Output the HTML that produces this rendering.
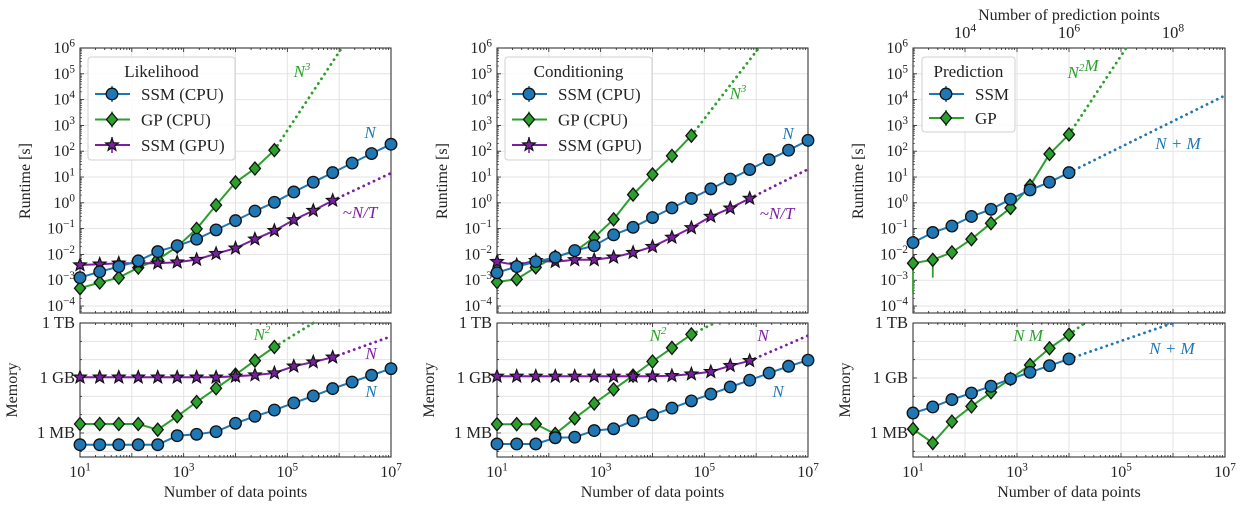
<!DOCTYPE html>
<html><head><meta charset="utf-8"><style>
html,body{margin:0;padding:0;background:#fff;}
svg{display:block;font-family:"Liberation Serif","DejaVu Serif",serif;}
</style></head><body>
<svg id="fig" width="1245" height="510" viewBox="0 0 1245 510" xmlns="http://www.w3.org/2000/svg"></svg>
<script>
// ---------- data (log10 values) ----------
const nPoints = [10, 24, 56, 133, 316, 750, 1778, 4217, 10000, 23714, 56234, 133352, 316228, 749894, 1778279, 4216965, 10000000];
const xTickExp = [1, 3, 5, 7];
const runtimeTickExp = [6,5,4,3,2,1,0,-1,-2,-3,-4];
const memTickLabels = ["1 TB","1 GB","1 MB"];
const memTickExp = [12, 9, 6];
const topTickLabels = ["10^4","10^6","10^8"];
const topTickExp = [2, 4, 6];

// Likelihood runtime (log10 s)
const likSsmCpuRt = [-2.9,-2.67,-2.47,-2.25,-1.89,-1.66,-1.41,-1.05,-0.69,-0.32,0.02,0.42,0.8,1.17,1.54,1.91,2.27];
const likGpCpuRt  = [-3.31,-3.09,-2.9,-2.51,-2.2,-1.7,-1.01,-0.09,0.79,1.33,2.04];
const likSsmGpuRt = [-2.41,-2.38,-2.34,-2.34,-2.34,-2.3,-2.2,-1.97,-1.76,-1.41,-1.08,-0.66,-0.3,0.09];
// Likelihood memory (log10 bytes)
const likSsmCpuMem = [5.36,5.36,5.36,5.36,5.36,5.85,5.93,6.07,6.53,6.91,7.25,7.64,8.02,8.42,8.78,9.15,9.51];
const likGpCpuMem  = [6.49,6.49,6.49,6.49,6.18,6.91,7.69,8.44,9.18,9.95,10.69];
const likSsmGpuMem = [9.04,9.04,9.04,9.04,9.04,9.04,9.04,9.04,9.09,9.16,9.27,9.64,9.87,10.13];

// Conditioning runtime
const conSsmCpuRt = [-2.71,-2.47,-2.28,-2.11,-1.85,-1.66,-1.24,-0.95,-0.57,-0.2,0.17,0.54,0.92,1.29,1.67,2.04,2.42];
const conGpCpuRt  = [-3.07,-2.96,-2.5,-2.09,-1.89,-1.34,-0.64,0.32,1.1,1.82,2.6];
const conSsmGpuRt = [-2.28,-2.41,-2.24,-2.28,-2.21,-2.21,-2.11,-1.93,-1.7,-1.34,-0.97,-0.53,-0.21,0.17];
// Conditioning memory
const conSsmCpuMem = [5.4,5.4,5.4,5.74,5.77,6.13,6.23,6.67,6.99,7.36,7.75,8.12,8.51,8.88,9.27,9.64,9.97];
const conGpCpuMem  = [6.48,6.48,6.48,5.95,6.8,7.61,8.38,9.13,9.9,10.64,11.38];
const conSsmGpuMem = [9.09,9.09,9.09,9.09,9.09,9.09,9.09,9.09,9.1,9.12,9.21,9.34,9.67,9.94];

// Prediction runtime
const preSsmRt = [-1.54,-1.15,-0.9,-0.53,-0.25,0.14,0.5,0.8,1.17];
const preGpRt  = [-2.34,-2.21,-1.92,-1.41,-0.79,-0.2,0.66,1.89,2.65];
const preGpRtErrLow = [-3.5,-2.9,-2.2,-1.5,-0.85,-0.25,0.62,1.85,2.6];
// Prediction memory
const preSsmMem = [7.09,7.42,7.82,8.18,8.55,8.95,9.31,9.67,10.04];
const preGpMem  = [6.22,5.45,6.62,7.45,8.22,8.95,9.71,10.62,11.36];

// extrapolation endpoints [log10 x, log10 y]
const likExtrap = {gpRt:[6.05,6], gpuRt:[7,1.15], gpMem:[5.5,12], gpuMem:[7,11.27]};
const conExtrap = {gpRt:[6.05,6], gpuRt:[7,1.3], gpMem:[5.2,12], gpuMem:[7,11.31]};
const preExtrap = {ssmRt:[7,4.16], gpRt:[5.1,6], ssmMem:[6,12], gpMem:[4.3,12]};

// ---------- drawing ----------
const C = {blue:"#1f77b4", green:"#2ca02c", purple:"#7b1fa2"};
const svg = document.getElementById('fig');
const NS = "http://www.w3.org/2000/svg";
function el(tag, attrs, parent){
  const e = document.createElementNS(NS, tag);
  for (const k in attrs) e.setAttribute(k, attrs[k]);
  (parent||svg).appendChild(e);
  return e;
}
const RT = {top:48, bot:313, hi:6, lo:-4.27};
const MEM = {top:323, bot:457, hi:12, lo:4.69};

function supText(g, x, y, base, exp, anchor, size){
  const t = el('text', {x:x, y:y, 'text-anchor':anchor, 'font-size':size, fill:'#222'}, g);
  t.appendChild(document.createTextNode(base));
  const s = el('tspan', {'font-size':size*0.7, dy:-size*0.4}, t);
  s.textContent = exp;
  return t;
}
function marker(g, type, x, y, color){
  let m;
  if (type==='o') m = el('circle', {cx:x, cy:y, r:5.8, fill:color, stroke:'#111', 'stroke-width':1.3}, g);
  else if (type==='d') m = el('polygon', {points:`${x},${y-6.5} ${x+5.5},${y} ${x},${y+6.5} ${x-5.5},${y}`, fill:color, stroke:'#111', 'stroke-width':1.3}, g);
  else {
    let p=[]; for(let k=0;k<10;k++){const r=k%2?2.8:6.6; const a=-Math.PI/2+k*Math.PI/5; p.push((x+r*Math.cos(a)).toFixed(1)+','+(y+r*Math.sin(a)).toFixed(1));}
    m = el('polygon', {points:p.join(' '), fill:color, stroke:'#111', 'stroke-width':1.2}, g);
  }
  return m;
}

function panel(cfg){
  const g = el('g', {});
  
  
  const x0=cfg.x0, x1=cfg.x1;
  const X = lx => x0 + (lx-1)/6*(x1-x0);
  const Yr = ly => RT.top + (RT.hi-ly)/(RT.hi-RT.lo)*(RT.bot-RT.top);
  const Ym = ly => MEM.top + (MEM.hi-ly)/(MEM.hi-MEM.lo)*(MEM.bot-MEM.top);
  const lxs = nPoints.map(v=>Math.log10(v));
  for (const ax of [[RT,Yr,runtimeTickExp],[MEM,Ym,[12,11,10,9,8,7,6,5]]]){
    const [R,Y,ticks]=ax;
    for (let e=1;e<=7;e++) el('line',{x1:X(e),x2:X(e),y1:R.top,y2:R.bot,stroke:'#e3e3e3','stroke-width':1},g);
    for (const t of ticks) el('line',{x1:x0,x2:x1,y1:Y(t),y2:Y(t),stroke:'#e3e3e3','stroke-width':1},g);
  }
  for (const R of [RT,MEM]){
    el('rect',{x:x0,y:R.top,width:x1-x0,height:R.bot-R.top,fill:'none',stroke:'#222','stroke-width':1},g);
    for (let e=1;e<7;e++){ for(let m=1;m<10;m++){ const xx=X(e+Math.log10(m)); const len=m===1?4:2;
      el('line',{x1:xx,x2:xx,y1:R.bot,y2:R.bot-len,stroke:'#222','stroke-width':0.8},g);
      el('line',{x1:xx,x2:xx,y1:R.top,y2:R.top+len,stroke:'#222','stroke-width':0.8},g);}}
  }
  runtimeTickExp.forEach(t=>{
    el('line',{x1:x0,x2:x0+4,y1:Yr(t),y2:Yr(t),stroke:'#222','stroke-width':0.8},g);
    for(let m=2;m<10;m++){const yy=Yr(t-1+Math.log10(m)); if(yy<RT.bot&&yy>RT.top) el('line',{x1:x0,x2:x0+2,y1:yy,y2:yy,stroke:'#222','stroke-width':0.6},g);}
    supText(g, x0-5, Yr(t)+5, "10", t<0?"\u2212"+(-t):String(t), 'end', 16);
  });
  for (let e=5;e<=12;e++){
    el('line',{x1:x0,x2:x0+(e%3===0?4:2),y1:Ym(e),y2:Ym(e),stroke:'#222','stroke-width':0.8},g);
  }
  memTickLabels.forEach((l,i)=>{
    const t=el('text',{x:x0-5,y:Ym(memTickExp[i])+5,'text-anchor':'end','font-size':16.5,fill:'#222'},g); t.textContent=l;
  });
  xTickExp.forEach(e=>{ supText(g, X(e), 477, "10", String(e), 'middle', 16); });
  const xl=el('text',{x:(x0+x1)/2,y:497,'text-anchor':'middle','font-size':16,fill:'#222'},g);
  xl.textContent='Number of data points';
  
  
  const yl=el('text',{x:0,y:0,transform:`translate(${x0-50},181) rotate(-90)`,'text-anchor':'middle','font-size':16,fill:'#222'},g);
  yl.textContent='Runtime [s]';
  
  
  const ml=el('text',{x:0,y:0,transform:`translate(${x0-63},390) rotate(-90)`,'text-anchor':'middle','font-size':16,fill:'#222'},g);
  ml.textContent='Memory';
  
  

  cfg.series.forEach(s=>{
    const Y = s.mem?Ym:Yr;
    const sg = el('g',{},g);
    
    
    if (s.ext){
      const li=s.vals.length-1;
      el('line',{x1:X(lxs[li]),y1:Y(s.vals[li]),x2:X(s.ext[0]),y2:Y(s.ext[1]),stroke:s.color,'stroke-width':2.8,'stroke-dasharray':'0.1 5.6','stroke-linecap':'round'},sg);
    }
    if (s.err) s.err.forEach((lo,i)=>{ if(lo<s.vals[i]-0.2) el('line',{x1:X(lxs[i]),x2:X(lxs[i]),y1:Y(s.vals[i]),y2:Y(lo),stroke:s.color,'stroke-width':1.8},sg);});
    const pts = s.vals.map((v,i)=>X(lxs[i]).toFixed(1)+','+Y(v).toFixed(1)).join(' ');
    el('polyline',{points:pts,fill:'none',stroke:s.color,'stroke-width':2},sg);
    s.vals.forEach((v,i)=>{
      const m=marker(sg,s.mk,X(lxs[i]),Y(v),s.color);
      
      
    });
  });
  cfg.notes.forEach(n=>{
    const t=el('text',{x:n[0],y:n[1],'text-anchor':'middle','font-size':17,'font-style':'italic',fill:n[3]},g);
    t.innerHTML=n[2];
    
    
  });
  const L=cfg.legend;
  const lg=el('g',{},g);
  
  
  el('rect',{x:L.x,y:57,width:L.w,height:L.h,rx:3,fill:'rgba(255,255,255,0.85)',stroke:'#d0d0d0','stroke-width':1},lg);
  const tt=el('text',{x:L.x+L.w/2,y:77,'text-anchor':'middle','font-size':17,fill:'#222'},lg); tt.textContent=L.title;
  L.items.forEach((it,i)=>{
    const y=94+i*L.dy;
    const eg=el('g',{},lg);
    
    
    el('line',{x1:L.x+7,x2:L.x+42,y1:y,y2:y,stroke:it[2],'stroke-width':2},eg);
    el('line',{x1:L.x+24,x2:L.x+24,y1:y-8,y2:y+8,stroke:it[2],'stroke-width':1.6},eg);
    marker(eg,it[1],L.x+24,y,it[2]);
    const t=el('text',{x:L.x+L.tx,y:y+6,'font-size':17,fill:'#222'},eg); t.textContent=it[0];
  });
  return {g,X};
}

const legItems=[["SSM (CPU)",'o',C.blue],["GP (CPU)",'d',C.green],["SSM (GPU)",'*',C.purple]];
panel({name:'likelihood',x0:80,x1:391,
  legend:{x:88,w:147,h:103,title:'Likelihood',dy:25.5,tx:53,items:legItems},
  series:[
    {id:'likelihood-gp-runtime',vals:likGpCpuRt,color:C.green,mk:'d',ext:likExtrap.gpRt},
    {id:'likelihood-ssm-gpu-runtime',vals:likSsmGpuRt,color:C.purple,mk:'*',ext:likExtrap.gpuRt},
    {id:'likelihood-ssm-cpu-runtime',vals:likSsmCpuRt,color:C.blue,mk:'o'},
    {id:'likelihood-gp-memory',vals:likGpCpuMem,color:C.green,mk:'d',mem:1,ext:likExtrap.gpMem},
    {id:'likelihood-ssm-gpu-memory',vals:likSsmGpuMem,color:C.purple,mk:'*',mem:1,ext:likExtrap.gpuMem},
    {id:'likelihood-ssm-cpu-memory',vals:likSsmCpuMem,color:C.blue,mk:'o',mem:1}],
  notes:[[302,77,'N<tspan font-size="11" dy="-7">3</tspan>',C.green],[370,138,'N',C.blue],[360,218,'~N/T',C.purple],
         [262,340,'N<tspan font-size="11" dy="-7">2</tspan>',C.green],[371,359,'N',C.purple],[371,397,'N',C.blue]]});
panel({name:'conditioning',x0:497,x1:808,
  legend:{x:505,w:147,h:103,title:'Conditioning',dy:25.5,tx:53,items:legItems},
  series:[
    {id:'conditioning-gp-runtime',vals:conGpCpuRt,color:C.green,mk:'d',ext:conExtrap.gpRt},
    {id:'conditioning-ssm-gpu-runtime',vals:conSsmGpuRt,color:C.purple,mk:'*',ext:conExtrap.gpuRt},
    {id:'conditioning-ssm-cpu-runtime',vals:conSsmCpuRt,color:C.blue,mk:'o'},
    {id:'conditioning-gp-memory',vals:conGpCpuMem,color:C.green,mk:'d',mem:1,ext:conExtrap.gpMem},
    {id:'conditioning-ssm-gpu-memory',vals:conSsmGpuMem,color:C.purple,mk:'*',mem:1,ext:conExtrap.gpuMem},
    {id:'conditioning-ssm-cpu-memory',vals:conSsmCpuMem,color:C.blue,mk:'o',mem:1}],
  notes:[[738,99,'N<tspan font-size="11" dy="-7">3</tspan>',C.green],[788,139,'N',C.blue],[777,219,'~N/T',C.purple],
         [658,341,'N<tspan font-size="11" dy="-7">2</tspan>',C.green],[763,341,'N',C.purple],[778,397,'N',C.blue]]});
const p3 = panel({name:'prediction',x0:913,x1:1225,
  legend:{x:922,w:93,h:75,title:'Prediction',dy:24,tx:53,items:[["SSM",'o',C.blue],["GP",'d',C.green]]},
  series:[
    {id:'prediction-gp-runtime',vals:preGpRt,color:C.green,mk:'d',ext:preExtrap.gpRt,err:preGpRtErrLow},
    {id:'prediction-ssm-runtime',vals:preSsmRt,color:C.blue,mk:'o',ext:preExtrap.ssmRt},
    {id:'prediction-gp-memory',vals:preGpMem,color:C.green,mk:'d',mem:1,ext:preExtrap.gpMem},
    {id:'prediction-ssm-memory',vals:preSsmMem,color:C.blue,mk:'o',mem:1,ext:preExtrap.ssmMem}],
  notes:[[1083,78,'N<tspan font-size="11" dy="-7">2</tspan>M',C.green],[1178,149,'N + M',C.blue],
         [1028,341,'N M',C.green],[1172,354,'N + M',C.blue]]});
topTickExp.forEach((e,i)=>{
  const xx=p3.X(e);
  const parts=topTickLabels[i].split('^');
  const t=supText(p3.g, xx, 38, parts[0], parts[1], 'middle', 16.5);
  
  
});
const tl=el('text',{x:1069,y:20,'text-anchor':'middle','font-size':16,fill:'#222'},p3.g);
tl.textContent='Number of prediction points';


</script>
</body></html>
